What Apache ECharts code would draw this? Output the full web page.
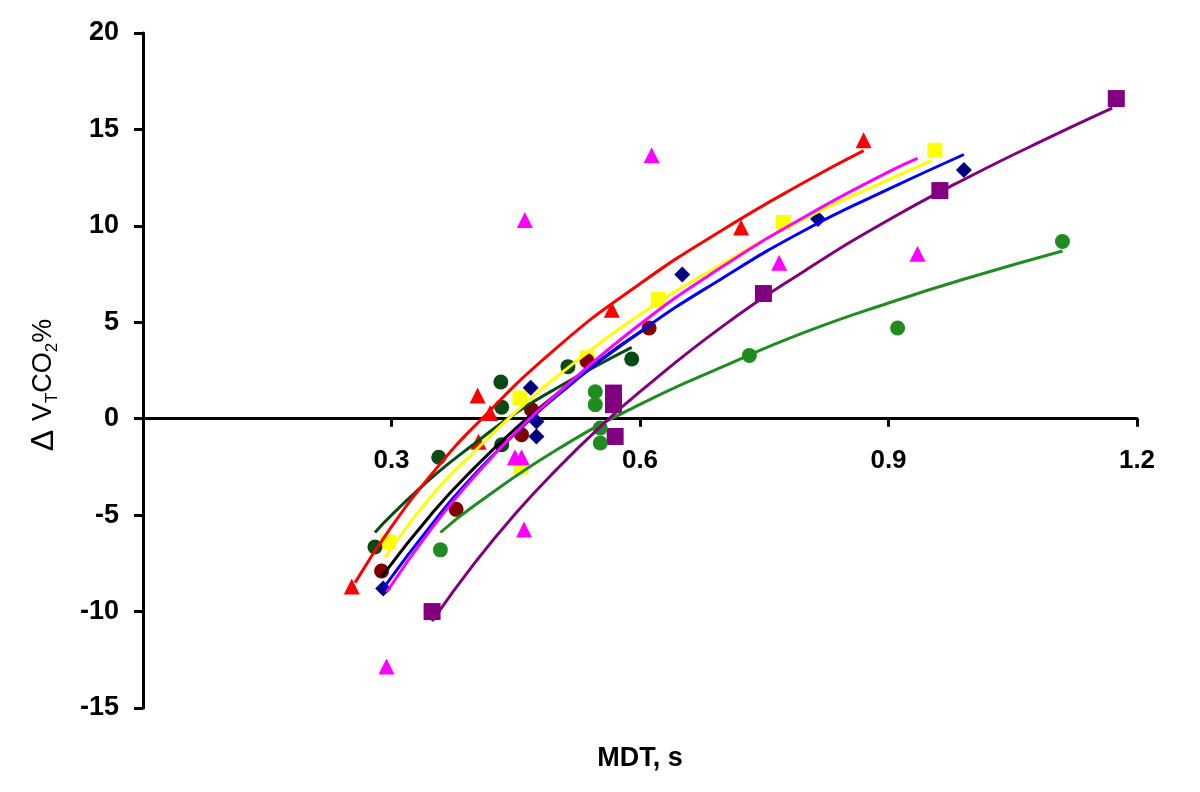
<!DOCTYPE html>
<html>
<head>
<meta charset="utf-8">
<script src="https://cdn.jsdelivr.net/npm/echarts@6/dist/echarts.min.js"></script>
<style>
html,body{margin:0;padding:0;background:#fff;}
#chart{width:1200px;height:792px;}
</style>
</head>
<body>
<div id="chart"></div>
<script>
// ---- data ----
const xTicks = [0.3, 0.6, 0.9, 1.2];
const yTicks = [-15, -10, -5, 0, 5, 10, 15, 20];

const redPoints = [[0.252,-8.7],[0.404,1.2],[0.419,0.3],[0.405,-1.2],[0.566,5.65],[0.722,9.92],[0.870,14.44]];
const redCurve = [[0.256,-8.5],[0.30,-5.6],[0.35,-2.8],[0.40,-0.4],[0.50,3.7],[0.60,7.0],[0.70,9.8],[0.80,12.3],[0.870,13.9]];

const yellowPoints = [[0.296,-6.4],[0.455,1.07],[0.456,-2.5],[0.536,3.15],[0.622,6.18],[0.773,10.18],[0.956,13.92]];
const yellowCurve = [[0.292,-7.2],[0.35,-3.9],[0.40,-1.7],[0.45,0.35],[0.50,2.2],[0.60,5.4],[0.70,8.05],[0.80,10.4],[0.90,12.4],[0.952,13.4]];

const bluePoints = [[0.290,-8.8],[0.468,1.6],[0.475,-0.14],[0.475,-0.92],[0.651,7.48],[0.815,10.35],[0.991,12.9]];
const blueCurve = [[0.29,-8.8],[0.35,-5.4],[0.40,-2.9],[0.45,-0.75],[0.50,1.2],[0.60,4.5],[0.70,7.3],[0.80,9.8],[0.90,11.9],[0.991,13.7]];

const darkRedPoints = [[0.288,-7.9],[0.378,-4.7],[0.457,-0.83],[0.469,0.47],[0.536,3.0],[0.611,4.7]];
const blackCurve = [[0.288,-8.2],[0.35,-4.85],[0.40,-2.55],[0.45,-0.5],[0.50,1.3],[0.55,3.0],[0.611,4.8]];

const darkGreenPoints = [[0.280,-6.65],[0.357,-2.0],[0.432,1.9],[0.433,0.6],[0.433,-1.35],[0.513,2.7],[0.590,3.1]];
const darkGreenCurve = [[0.28,-5.9],[0.30,-5.0],[0.35,-3.0],[0.40,-1.3],[0.45,0.3],[0.50,1.6],[0.55,2.8],[0.59,3.7]];

const magentaPoints = [[0.294,-12.85],[0.449,-2.0],[0.457,-2.0],[0.460,-5.75],[0.461,10.3],[0.614,13.66],[0.768,8.09],[0.935,8.56]];
const magentaCurve = [[0.294,-9.0],[0.35,-5.6],[0.40,-3.0],[0.45,-0.7],[0.50,1.3],[0.60,4.9],[0.70,7.9],[0.80,10.5],[0.90,12.8],[0.935,13.5]];

const purplePoints = [[0.349,-10.0],[0.568,1.33],[0.568,0.73],[0.570,-0.92],[0.749,6.49],[0.962,11.83],[1.175,16.6]];
const purpleCurve = [[0.349,-10.5],[0.40,-7.5],[0.45,-4.9],[0.50,-2.6],[0.55,-0.5],[0.60,1.4],[0.70,4.8],[0.80,7.7],[0.90,10.3],[1.00,12.6],[1.10,14.7],[1.17,16.1]];

const greenPoints = [[0.359,-6.8],[0.546,1.4],[0.546,0.73],[0.552,-0.48],[0.552,-1.26],[0.732,3.28],[0.911,4.70],[1.110,9.19]];
const greenCurve = [[0.359,-5.9],[0.40,-4.5],[0.50,-1.6],[0.60,0.74],[0.70,2.7],[0.80,4.5],[0.90,6.0],[1.00,7.35],[1.110,8.7]];

// ---- chart ----
const FONT = 'Liberation Sans, Arial, sans-serif';
const GRID_TOP = 33, GRID_BOTTOM = 84, CHART_H = 792;
const Y_MIN = -15, Y_MAX = 20;
// shift the x axis (line, ticks, labels) up so that it crosses the y axis at 0
const plotH = CHART_H - GRID_TOP - GRID_BOTTOM;
const xAxisOffset = -plotH * (0 - Y_MIN) / (Y_MAX - Y_MIN);

function scat(name, data, color, symbol, size) {
  return {type:'scatter', name, data, symbol, symbolSize:size, itemStyle:{color, opacity:1}, z:2, silent:true};
}
function curve(name, data, color) {
  return {type:'line', name, data, smooth:true, showSymbol:false, symbol:'none',
    lineStyle:{color, width:3}, z:3, silent:true};
}

const chart = echarts.init(document.getElementById('chart'), null, {renderer:'canvas'});
chart.setOption({
  animation:false,
  backgroundColor:'#fff',
  grid:{left:143, right:63, top:GRID_TOP, bottom:GRID_BOTTOM, containLabel:false},
  xAxis:{
    type:'value', min:0, max:1.2, interval:0.3, position:'bottom', offset:xAxisOffset,
    axisLine:{onZero:false, lineStyle:{color:'#000', width:3}},
    axisTick:{show:true, length:8, lineStyle:{color:'#000', width:3}},
    axisLabel:{color:'#000', fontSize:26, fontWeight:'bold', fontFamily:FONT, margin:29,
      formatter: v => (xTicks.some(t => Math.abs(t - v) < 1e-9) ? v.toFixed(1) : '')},
    splitLine:{show:false}
  },
  yAxis:{
    type:'value', min:Y_MIN, max:Y_MAX, interval:5,
    axisLine:{show:true, onZero:false, lineStyle:{color:'#000', width:3}},
    axisTick:{show:true, length:9, lineStyle:{color:'#000', width:3}},
    axisLabel:{color:'#000', fontSize:27, fontWeight:'bold', fontFamily:FONT, margin:24,
      formatter: v => (yTicks.includes(v) ? String(v) : '')},
    splitLine:{show:false}
  },
  graphic:[
    {type:'text', position:[640,759], style:{text:'MDT, s', fill:'#000', font:'bold 27px Liberation Sans, Arial, sans-serif', textAlign:'center', textVerticalAlign:'middle'}},
    {type:'text', position:[44,385], rotation:Math.PI/2,
      style:{text:'{d|Δ }{b|V}{s|T}{b|CO}{s|2}{b|%}', textAlign:'center', textVerticalAlign:'middle',
        rich:{
          d:{fontSize:32, fontFamily:FONT, fill:'#000', lineHeight:34},
          b:{fontSize:27, fontFamily:FONT, fill:'#000', lineHeight:34},
          s:{fontSize:17, fontFamily:FONT, fill:'#000', lineHeight:16, verticalAlign:'bottom'}
        }}}
  ],
  series:[
    scat('red', redPoints, '#FF0000', 'triangle', 16),
    scat('yellow', yellowPoints, '#FFFF00', 'rect', 15),
    scat('blue', bluePoints, '#000080', 'diamond', 16),
    scat('darkred', darkRedPoints, '#800000', 'circle', 15),
    scat('darkgreen', darkGreenPoints, '#0A4A14', 'circle', 15),
    scat('magenta', magentaPoints, '#FF00FF', 'triangle', 16),
    scat('purple', purplePoints, '#800080', 'rect', 17),
    scat('green', greenPoints, '#1E8C1E', 'circle', 15),
    curve('darkgreenFit', darkGreenCurve, '#0A4A14'),
    curve('greenFit', greenCurve, '#1E8C1E'),
    curve('purpleFit', purpleCurve, '#800080'),
    curve('redFit', redCurve, '#FF0000'),
    curve('yellowFit', yellowCurve, '#FFFF00'),
    curve('blackFit', blackCurve, '#000000'),
    curve('blueFit', blueCurve, '#0000FF'),
    curve('magentaFit', magentaCurve, '#FF00FF')
  ]
});
</script>
</body>
</html>
